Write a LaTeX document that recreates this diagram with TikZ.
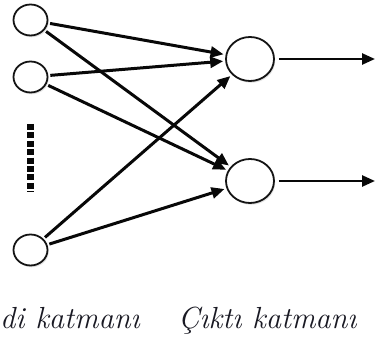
\documentclass[tikz,border=0pt]{standalone}
\usepackage{fontspec}
\usetikzlibrary{arrows.meta,shapes.geometric,shadows}
\definecolor{unitline}{RGB}{20,20,20}
\definecolor{linkcol} {RGB}{ 8, 8, 8}
\definecolor{textcol} {RGB}{25,25,35}
\tikzset{
  %% Neuron: white ellipse with a dark rim and a faint shadow
  unit/.style={
    ellipse, draw=unitline, fill=white, line width=1.8pt,
    inner sep=0pt,
    drop shadow={shadow xshift=1.2pt, shadow yshift=-1.8pt, opacity=0.22}
  },
  inunit/.style={unit, minimum width=34pt, minimum height=31pt},
  outunit/.style={unit, minimum width=48pt, minimum height=44pt},
  %% Weighted connection
  link/.style={
    draw=linkcol, line width=3pt,
    -{Triangle[length=13pt,width=11pt]},
    shorten <=2pt, shorten >=2pt
  },
  layerlabel/.style={font=\fontsize{30.5}{34}\selectfont\itshape, text=textcol,
    inner sep=0pt},
}

\begin{document}
\begin{tikzpicture}[x=1pt, y=-1pt, line cap=butt, line join=miter]

  %% ── Layout constants ──────────────────────────────────────────────────
  \def\IX{30.5}   % input column
  \def\OX{250}    % output column
  \def\EX{375}    % end of the output arrows
  \def\LY{329}    % label baseline

  \useasboundingbox (0,0) rectangle (376,352);

  %% Input layer
  \node[inunit] (in1) at (\IX, 20)  {};
  \node[inunit] (in2) at (\IX, 77)  {};
  \node[inunit] (in3) at (\IX, 250) {};

  %% Elided inputs
  \draw[linkcol, line width=7pt, dash pattern=on 6pt off 2.4pt]
        (\IX,124) -- (\IX,192);

  %% Output layer
  \node[outunit] (out1) at (\OX, 59)  {};
  \node[outunit] (out2) at (\OX, 181) {};

  \coordinate (end1) at (\EX, 59);
  \coordinate (end2) at (\EX, 181);

  %% Full connections
  \foreach \i in {1,2,3}{
    \foreach \o in {1,2}{
      \draw[link] (in\i) -- (out\o);
    }
  }

  %% Outputs
  \draw[link, line width=2.6pt, shorten <=4pt, shorten >=0pt] (out1) -- (end1);
  \draw[link, line width=2.6pt, shorten <=4pt, shorten >=0pt] (out2) -- (end2);

  %% Layer names
  \node[layerlabel, anchor=base west] (inlabel)  at (0, \LY)   {di katmanı};
  \node[layerlabel, anchor=base west] (outlabel) at (178, \LY) {Çıktı katmanı};

\end{tikzpicture}
\end{document}
